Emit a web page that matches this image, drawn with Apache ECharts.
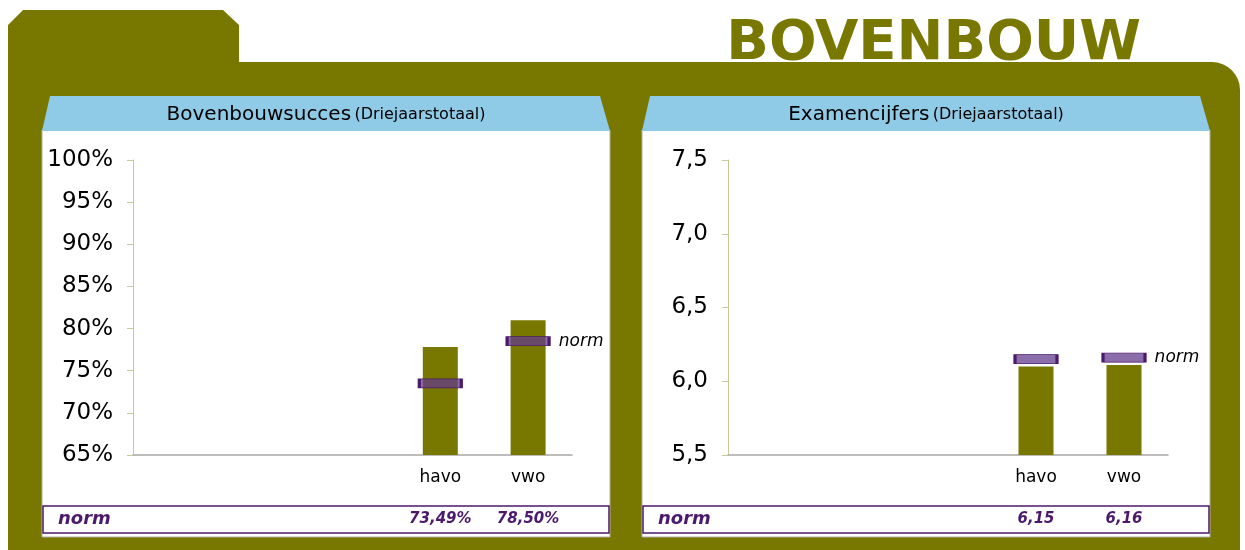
<!DOCTYPE html>
<html>
<head>
<meta charset="utf-8">
<script src="https://cdn.jsdelivr.net/npm/echarts@6/dist/echarts.min.js"></script>
<style>
  html, body { margin: 0; padding: 0; background: #fff; }
  #chart { width: 1245px; height: 550px; }
</style>
</head>
<body>
<div id="chart"></div>
<script>
// categorieen (eerste drie leeg)
var categories = ['', '', '', 'havo', 'vwo'];

// Bovenbouwsucces (procenten)
var succesValues = [65, 65, 65, 77.8, 81.0];
var succesNorm = [null, null, null, 73.49, 78.50];
var succesNormLabels = ['', '', '', '73,49%', '78,50%'];

// Examencijfers
var cijferValues = [5.5, 5.5, 5.5, 6.10, 6.11];
var cijferNorm = [null, null, null, 6.15, 6.16];
var cijferNormLabels = ['', '', '', '6,15', '6,16'];

var OLIVE = '#787800';
var BLUE = '#8fcae6';
var PURPLE = '#4b1a6b';
var FONT = '"DejaVu Sans", Verdana, sans-serif';

var myChart = echarts.init(document.getElementById('chart'));

function panel(x0, x1, title) {
    var cx = (x0 + x1) / 2;
    return [
        { type: 'rect', shape: { x: x0, y: 130, width: x1 - x0, height: 407 },
          style: { fill: '#fff', stroke: '#b0b0a0', lineWidth: 1 }, z: 1 },
        { type: 'polygon', shape: { points: [[x0 + 8, 96], [x1 - 10, 96], [x1, 131], [x0, 131]] },
          style: { fill: BLUE }, z: 2 },
        { type: 'text', x: cx, y: 115, z: 3,
          style: { text: '{a|' + title + '} {b|(Driejaarstotaal)}', align: 'center', verticalAlign: 'middle',
            rich: { a: { fontSize: 20, fontFamily: FONT, fill: '#000' },
                    b: { fontSize: 16, fontFamily: FONT, fill: '#000' } } } },
        { type: 'rect', shape: { x: x0 + 1, y: 506, width: x1 - x0 - 2, height: 27 },
          style: { fill: '#fff', stroke: PURPLE, lineWidth: 1.5 }, z: 3 },
        { type: 'text', x: x0 + 16, y: 519, z: 4,
          style: { text: 'norm', fontSize: 18, fontWeight: 'bold', fontStyle: 'italic', fontFamily: FONT,
                   fill: PURPLE, verticalAlign: 'middle' } }
    ];
}

// achtergrondvorm: tab links, afgeronde hoek rechtsboven
var bgPoints = [[8, 25], [23, 10], [223, 10], [239, 25], [239, 62]];
for (var a = 0; a <= 8; a++) {
    var t = -Math.PI / 2 + (a / 8) * (Math.PI / 2);
    bgPoints.push([1212 + 28 * Math.cos(t), 90 + 28 * Math.sin(t)]);
}
bgPoints.push([1240, 550], [8, 550]);

var graphics = [
    { type: 'polygon', z: 0, shape: { points: bgPoints }, style: { fill: OLIVE } },
    { type: 'text', x: 1141, y: 44, z: 1,
      style: { text: 'BOVENBOUW', fontSize: 56, fontWeight: 'bold', fontFamily: FONT,
               fill: OLIVE, align: 'right', verticalAlign: 'middle' } }
].concat(panel(42, 610, 'Bovenbouwsucces'), panel(642, 1210, 'Examencijfers'));

function xAxes(gi, labels) {
    return [
        { type: 'category', gridIndex: gi, data: categories, z: 10,
          axisLine: { lineStyle: { color: '#a8a8a8', width: 1.5 } },
          axisTick: { show: false },
          axisLabel: { color: '#000', fontSize: 17, fontFamily: FONT, margin: 14 } },
        { type: 'category', gridIndex: gi, data: labels, position: 'bottom', offset: 52, z: 10,
          axisLine: { show: false }, axisTick: { show: false },
          axisLabel: { color: PURPLE, fontSize: 15, fontWeight: 'bold', fontStyle: 'italic',
                       fontFamily: FONT, margin: 5, interval: 0 } }
    ];
}

function yAxis(gi, min, max, interval, fmt) {
    return {
        type: 'value', gridIndex: gi, min: min, max: max, interval: interval, z: 10,
        splitLine: { show: false },
        axisLine: { show: true, lineStyle: { color: '#c8c89a' } },
        axisTick: { show: true, length: 6, lineStyle: { color: '#c8c89a' } },
        axisLabel: { color: '#000', fontSize: 23, fontFamily: FONT, margin: 20, formatter: fmt }
    };
}

function normSeries(xi, yi, data) {
    return {
        type: 'scatter', xAxisIndex: xi, yAxisIndex: yi, data: data,
        symbol: 'rect', symbolSize: [42, 9], z: 12,
        itemStyle: { color: 'rgba(100,60,140,0.75)', borderColor: PURPLE, borderWidth: 1.5, opacity: 1 },
        label: {
            show: true, position: 'right', distance: 8, color: '#000', fontSize: 17,
            fontStyle: 'italic', fontFamily: FONT,
            formatter: function (p) { return p.dataIndex === data.length - 1 ? 'norm' : ''; }
        },
        emphasis: { disabled: true }
    };
}

var option = {
    animation: false,
    graphic: graphics,
    grid: [
        { left: 133, top: 160, width: 439, height: 295 },
        { left: 728, top: 160, width: 440, height: 295 }
    ],
    xAxis: xAxes(0, succesNormLabels).concat(xAxes(1, cijferNormLabels)),
    yAxis: [
        yAxis(0, 65, 100, 5, function (v) { return v + '%'; }),
        yAxis(1, 5.5, 7.5, 0.5, function (v) { return v.toFixed(1).replace('.', ','); })
    ],
    series: [
        { type: 'bar', xAxisIndex: 0, yAxisIndex: 0, data: succesValues, barWidth: 35,
          barMinHeight: 1, itemStyle: { color: OLIVE }, z: 11 },
        normSeries(0, 0, succesNorm),
        { type: 'bar', xAxisIndex: 2, yAxisIndex: 1, data: cijferValues, barWidth: 35,
          barMinHeight: 1, itemStyle: { color: OLIVE }, z: 11 },
        normSeries(2, 1, cijferNorm)
    ]
};

myChart.setOption(option);
</script>
</body>
</html>
